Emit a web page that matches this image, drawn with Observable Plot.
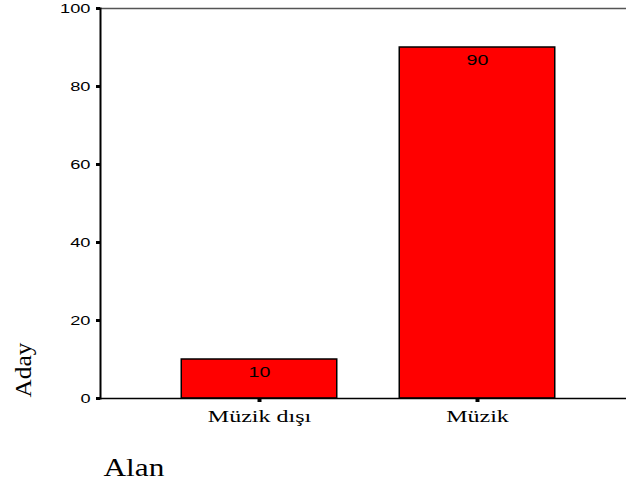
<!DOCTYPE html>
<html>
<head>
<meta charset="utf-8">
<script src="https://cdn.jsdelivr.net/npm/d3@7"></script>
<script src="https://cdn.jsdelivr.net/npm/@observablehq/plot@0.6"></script>
<style>
  html, body { margin: 0; padding: 0; background: #fff; }
  #chart svg { display: block; }
</style>
</head>
<body>
<div id="chart"></div>
<script>
const categories = ["Müzik dışı", "Müzik"];
const values = [10, 90];
const yTicks = [0, 20, 40, 60, 80, 100];
const xTitle = "Alan";
const yTitle = "Aday";

const data = categories.map((c, i) => ({ category: c, value: values[i] }));

const sans = "Liberation Sans, Arial, sans-serif";
const serif = "Liberation Serif, Times New Roman, serif";

const chart = Plot.plot({
  width: 626,
  height: 483,
  marginTop: 8,
  marginBottom: 85,
  marginLeft: 100,
  marginRight: 0,
  style: { background: "#fff", overflow: "visible" },
  x: { domain: categories, range: [149.75, 586.75], padding: 0, label: null },
  y: { domain: [0, 100], label: null },
  marks: [
    Plot.barY(data, {
      x: "category", y: "value",
      fill: "#ff0000", stroke: "#000", strokeWidth: 1.5,
      insetLeft: 31.25, insetRight: 31.25
    }),
    Plot.text(data, {
      x: "category", y: "value", text: d => String(d.value),
      lineAnchor: "top", dy: 8,
      fontFamily: sans, fontSize: 14, fill: "#000"
    }),
    Plot.ruleY([100], { stroke: "#555", strokeWidth: 1.5 }),
    Plot.ruleY([0], { stroke: "#000", strokeWidth: 1.5 }),
    Plot.frame({ anchor: "left", stroke: "#000", strokeWidth: 2 }),
    Plot.axisY({
      ticks: yTicks, tickSize: 4, tickPadding: 6, strokeWidth: 3,
      fontFamily: sans, fontSize: 13, label: null, tickFormat: d => String(d)
    }),
    Plot.axisX({
      tickSize: 4, tickPadding: 8, strokeWidth: 4,
      fontFamily: serif, fontSize: 16, label: null
    }),
    Plot.text([xTitle], {
      frameAnchor: "bottom-left", text: d => d, textAnchor: "start",
      lineAnchor: "bottom", dx: 3, dy: 77,
      fontFamily: serif, fontSize: 25, fill: "#000"
    }),
    Plot.text([yTitle], {
      frameAnchor: "bottom-left", text: d => d, textAnchor: "start",
      lineAnchor: "middle", rotate: -90, dx: -77, dy: -1,
      fontFamily: serif, fontSize: 23, fill: "#000"
    })
  ]
});

document.getElementById("chart").appendChild(chart);

// horizontally stretch text like the original rendering
function stretch(sel, factor) {
  sel.each(function () {
    const w = this.getComputedTextLength();
    if (w > 0) {
      this.setAttribute("textLength", (w * factor).toFixed(1));
      this.setAttribute("lengthAdjust", "spacingAndGlyphs");
    }
  });
}
const svg = d3.select(chart);
stretch(svg.selectAll('g[aria-label="y-axis tick label"] text'), 1.4);
stretch(svg.selectAll('g[aria-label="x-axis tick label"] text'), 1.5);
const textGroups = svg.selectAll('g[aria-label="text"]').nodes();
if (textGroups[0]) stretch(d3.select(textGroups[0]).selectAll("text"), 1.4);
if (textGroups[1]) stretch(d3.select(textGroups[1]).selectAll("text"), 1.25);
if (textGroups[2]) stretch(d3.select(textGroups[2]).selectAll("text"), 1.1);
</script>
</body>
</html>
